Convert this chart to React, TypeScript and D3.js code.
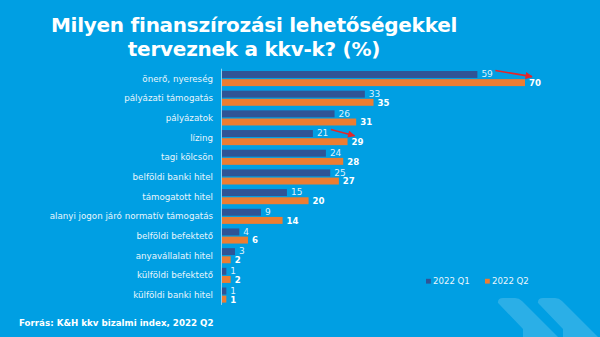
import React from "react";
import * as d3 from "d3";

const categories = [
  "önerő, nyereség",
  "pályázati támogatás",
  "pályázatok",
  "lízing",
  "tagi kölcsön",
  "belföldi banki hitel",
  "támogatott hitel",
  "alanyi jogon járó normatív támogatás",
  "belföldi befektető",
  "anyavállalati hitel",
  "külföldi befektető",
  "külföldi banki hitel",
];
const q1Values = [59, 33, 26, 21, 24, 25, 15, 9, 4, 3, 1, 1];
const q2Values = [70, 35, 31, 29, 28, 27, 20, 14, 6, 2, 2, 1];
const seriesNames = ["2022 Q1", "2022 Q2"];
const titleLines = ["Milyen finanszírozási lehetőségekkel", "terveznek a kkv-k? (%)"];
const sourceText = "Forrás: K&H kkv bizalmi index, 2022 Q2";
// arrows highlight rows (index) of biggest changes
const arrowRows = [0, 3];

const W = 600;
const H = 337;
const BG = "#009FE3";
const C1 = "#2F5496";
const C2 = "#ED7D31";

export default function App() {
  const x = d3.scaleLinear().domain([0, 70]).range([222, 525]);
  const y = d3.scaleBand<string>().domain(categories).range([68.7, 304.9]).padding(0);
  const sub = d3
    .scaleBand<string>()
    .domain(seriesNames)
    .range([2.3, 17.4])
    .paddingInner(0.15);
  const series = [q1Values, q2Values];

  const chevron = (dx: number) =>
    `M${498 + dx},302 Q${498 + dx},298 ${503 + dx},298 L${515 + dx},298 Q${519 + dx},298 ${522 + dx},301 L${558 + dx},337 L${523 + dx},337 L${523 + dx},329 L${500 + dx},305 Q${497 + dx},302 ${498 + dx},302 Z`;

  return (
    <svg width={W} height={H} style={{ position: "absolute", left: 0, top: 0 }}>
      <defs>
        <marker id="ah" viewBox="0 0 10 10" refX="9" refY="5" markerWidth="5" markerHeight="4.5" orient="auto">
          <path d="M0,0 L10,5 L0,10 z" fill="#E3262A" />
        </marker>
      </defs>
      <rect width={W} height={H} fill={BG} />
      {/* chevrons */}
      <g fill="#ffffff" fillOpacity={0.17}>
        <path d={chevron(0)} />
        <path d={chevron(40)} />
      </g>
      {/* title */}
      <g
        fontFamily="'DejaVu Sans', Verdana, sans-serif"
        fontWeight="bold"
        fontSize={20}
        letterSpacing={-0.25}
        fill="#ffffff"
        textAnchor="middle"
      >
        {titleLines.map((t, i) => (
          <text key={i} x={254} y={31.7 + i * 24.3}>
            {t}
          </text>
        ))}
      </g>
      {/* axis line */}
      <line x1={221.5} x2={221.5} y1={y.range()[0]} y2={y.range()[1]} stroke="#8ed3f4" strokeWidth={1} />
      {/* bars */}
      {categories.map((c, i) => (
        <g key={c} transform={`translate(0,${y(c)})`}>
          <text
            x={213}
            y={y.bandwidth() / 2}
            dy="0.35em"
            textAnchor="end"
            fontFamily="'DejaVu Sans', sans-serif"
            fontSize={8.7}
            fill="#eaf6fc"
          >
            {c}
          </text>
          {series.map((vals, s) => {
            const yy = sub(seriesNames[s])!;
            const bw = sub.bandwidth();
            return (
              <g key={s}>
                <rect x={x(0)} y={yy} width={x(vals[i]) - x(0)} height={bw} fill={s === 0 ? C1 : C2} />
                <text
                  x={x(vals[i]) + 4}
                  y={yy + bw / 2 + (s === 0 ? -0.4 : 0.3)}
                  dy="0.36em"
                  fontFamily="'DejaVu Sans', sans-serif"
                  fontSize={s === 0 ? 9 : 8.6}
                  fontWeight={s === 0 ? "normal" : "bold"}
                  fill={s === 0 ? "#dff1fb" : "#ffffff"}
                >
                  {vals[i]}
                </text>
              </g>
            );
          })}
        </g>
      ))}
      {/* red arrows */}
      {arrowRows.map((r) => {
        const c = categories[r];
        const y0 = y(c)! + sub(seriesNames[0])! - 0.5;
        const y1 = y(c)! + sub(seriesNames[1])! - 2.5;
        const x0 = x(q1Values[r]) + 18;
        const x1 = x(q2Values[r]) + 7;
        return (
          <line key={r} x1={x0} y1={y0} x2={x1} y2={y1} stroke="#E3262A" strokeWidth={1.6} markerEnd="url(#ah)" />
        );
      })}
      {/* legend */}
      <g fontFamily="'DejaVu Sans', sans-serif" fontSize={8.6} fill="#eaf6fc">
        {seriesNames.map((n, i) => (
          <g key={n} transform={`translate(${426 + i * 59},0)`}>
            <rect x={0} y={278.8} width={4.8} height={4.8} fill={i === 0 ? C1 : C2} />
            <text x={7} y={284.3}>
              {n}
            </text>
          </g>
        ))}
      </g>
      {/* source */}
      <text x={19} y={326} fontFamily="'DejaVu Sans', sans-serif" fontWeight="bold" fontSize={8.7} fill="#ffffff">
        {sourceText}
      </text>
    </svg>
  );
}
